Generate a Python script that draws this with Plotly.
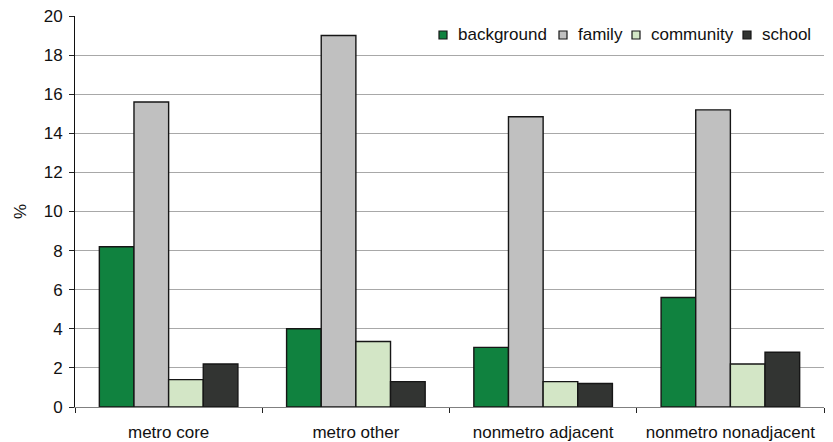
import plotly.graph_objects as go

# Share of respondents (%) by area type and source
areas = ["metro core", "metro other", "nonmetro adjacent", "nonmetro nonadjacent"]
background = [8.2, 4.0, 3.05, 5.6]
family = [15.6, 19.0, 14.85, 15.2]
community = [1.4, 3.35, 1.3, 2.2]
school = [2.2, 1.3, 1.2, 2.8]

y_ticks = [0, 2, 4, 6, 8, 10, 12, 14, 16, 18, 20]

series = [
    ("background", background, "#10823f"),
    ("family", family, "#c0c0c0"),
    ("community", community, "#d3e6c6"),
    ("school", school, "#323432"),
]

font = "Liberation Sans, Arial, sans-serif"
W, H = 833, 442
M = dict(l=75, r=9, t=16, b=35)
plot_w = W - M["l"] - M["r"]
plot_h = H - M["t"] - M["b"]


def to_paper(px, py):
    return (px - M["l"]) / plot_w, (H - M["b"] - py) / plot_h


fig = go.Figure()
for name, vals, color in series:
    fig.add_trace(go.Bar(
        name=name, x=areas, y=vals, showlegend=False,
        marker=dict(color=color, line=dict(color="#161616", width=1.4)),
    ))

# Compact legend row in the upper right: small square swatch + label
legend_left = [439, 559, 632, 743]
legend_y = 35
sw = 8
shapes, annotations = [], []
for (name, _, color), lx in zip(series, legend_left):
    x0, y0 = to_paper(lx, legend_y + sw / 2)
    x1, y1 = to_paper(lx + sw, legend_y - sw / 2)
    shapes.append(dict(type="rect", xref="paper", yref="paper",
                       x0=x0, x1=x1, y0=y0, y1=y1,
                       fillcolor=color, line=dict(color="#161616", width=1.2)))
    tx, ty = to_paper(lx + sw + 9, legend_y)
    annotations.append(dict(text=name, xref="paper", yref="paper",
                            x=tx, y=ty, xanchor="left", yanchor="middle",
                            showarrow=False, font=dict(size=17, color="#111")))

fig.update_layout(
    width=W, height=H,
    margin=M,
    paper_bgcolor="white", plot_bgcolor="white",
    barmode="group", bargap=0.26, bargroupgap=0,
    font=dict(family=font, size=17, color="#111"),
    shapes=shapes, annotations=annotations,
    xaxis=dict(
        showgrid=False, showline=True, linecolor="#808080", linewidth=1,
        ticks="outside", tickson="boundaries", ticklen=5, tickcolor="#222",
        tickfont=dict(size=17), ticklabelstandoff=10, automargin=False,
    ),
    yaxis=dict(
        range=[0, 20], tickvals=y_ticks, showgrid=True, gridcolor="#a8a8a8",
        gridwidth=1, zeroline=False, showline=True, linecolor="#111",
        linewidth=1, ticks="outside", ticklen=5, tickcolor="#222",
        tickfont=dict(size=17), ticklabelstandoff=3, automargin=False,
        title=dict(text="%", font=dict(size=17), standoff=12),
    ),
)

fig.write_html("out.html")
